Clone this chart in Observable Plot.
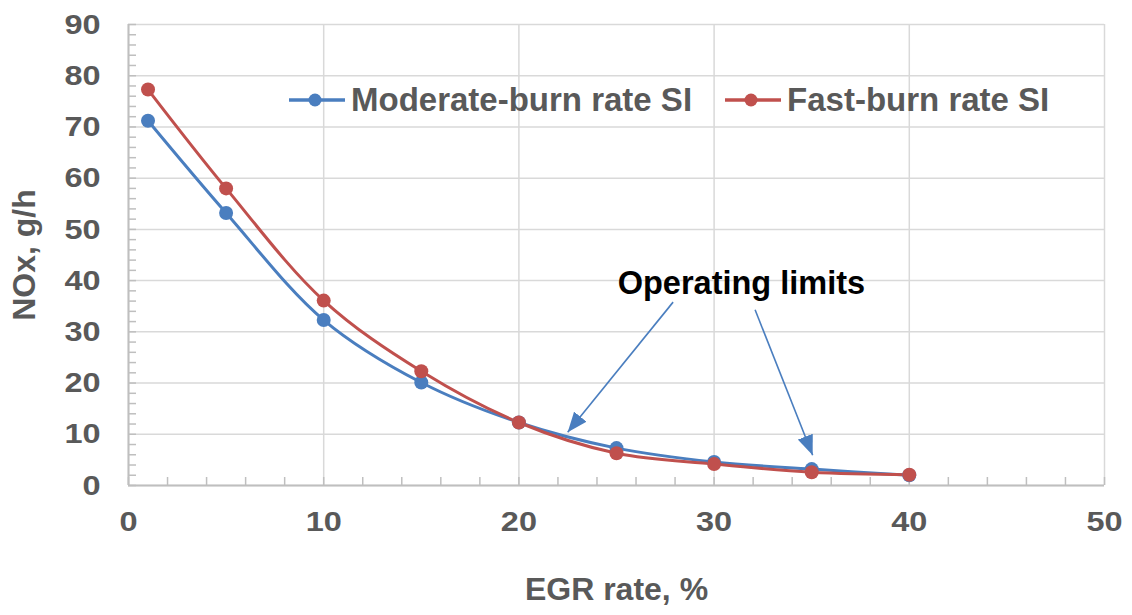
<!DOCTYPE html>
<html><head><meta charset="utf-8">
<script src="https://cdn.jsdelivr.net/npm/d3@7"></script>
<script src="https://cdn.jsdelivr.net/npm/@observablehq/plot@0.6"></script>
<style>
body{margin:0;background:#fff;font-family:"Liberation Sans",Arial,sans-serif;}
#wrap{position:relative;width:1132px;height:615px;}
#legend{position:absolute;top:81px;left:289px;display:flex;align-items:center;font-weight:bold;font-size:33px;color:#595959;white-space:nowrap;}
#legend .item{display:flex;align-items:center;margin-right:33px;}
#legend svg{margin-right:6px;}
</style></head><body><div id="wrap"><div id="chart"></div><div id="legend"></div></div>
<script>
const egr = [1, 5, 10, 15, 20, 25, 30, 35, 40];
const moderateNOx = [71.2, 53.2, 32.3, 20.1, 12.3, 7.3, 4.6, 3.2, 2.0];
const fastNOx = [77.3, 58.0, 36.1, 22.3, 12.3, 6.3, 4.2, 2.6, 2.1];
const seriesNames = ["Moderate-burn rate SI", "Fast-burn rate SI"];
const seriesColors = ["#4a7ebf", "#c0504d"];
const xTicks = [0, 10, 20, 30, 40, 50];
const yTicks = [0, 10, 20, 30, 40, 50, 60, 70, 80, 90];
const xMinor = d3.range(0, 51, 2);
const yMinor = d3.range(0, 91, 2);
const annotationLabel = [{x: 31.4, y: 39.4, text: "Operating limits"}];
const annotationArrows = [
  {x1: 27.9, y1: 35.8, x2: 22.5, y2: 10.4},
  {x1: 32.1, y1: 34.3, x2: 35.05, y2: 5.9}
];

const rows = [];
egr.forEach((x, i) => {
  rows.push({egr: x, nox: moderateNOx[i], series: seriesNames[0]});
});
egr.forEach((x, i) => {
  rows.push({egr: x, nox: fastNOx[i], series: seriesNames[1]});
});

const textGray = "#595959";
const chart = Plot.plot({
  width: 1132,
  height: 615,
  marginLeft: 128,
  marginRight: 28,
  marginTop: 24,
  marginBottom: 130,
  style: {fontFamily: '"Liberation Sans", Arial, sans-serif', background: "#fff", overflow: "visible"},
  x: {domain: [0, 50]},
  y: {domain: [0, 90]},
  color: {domain: seriesNames, range: seriesColors},
  marks: [
    Plot.gridY(yTicks, {stroke: "#d9d9d9", strokeOpacity: 1, strokeWidth: 1.5}),
    Plot.gridX(xTicks, {stroke: "#d9d9d9", strokeOpacity: 1, strokeWidth: 1.5}),
    Plot.axisX(xMinor, {tickSize: -8, tickFormat: () => "", stroke: "#bfbfbf", strokeWidth: 1.5, label: null}),
    Plot.axisY(yMinor, {tickSize: -8, tickFormat: () => "", stroke: "#bfbfbf", strokeWidth: 1.5, label: null}),
    Plot.axisX(xTicks, {tickSize: 0, tickPadding: 25, fontSize: 28.5, fontWeight: "bold", fill: textGray,
      className: "ticklab", label: "EGR rate, %", labelAnchor: "center", labelOffset: 114, labelArrow: "none"}),
    Plot.axisY(yTicks, {tickSize: 0, tickPadding: 28, fontSize: 28.5, fontWeight: "bold", fill: textGray,
      className: "ticklab", label: "NOx, g/h", labelAnchor: "center", labelOffset: 116, labelArrow: "none"}),
    Plot.ruleX([0], {stroke: "#bfbfbf", strokeWidth: 2}),
    Plot.ruleY([0], {stroke: "#bfbfbf", strokeWidth: 2}),
    Plot.line(rows, {x: "egr", y: "nox", stroke: "series", z: "series", strokeWidth: 3, curve: "catmull-rom"}),
    Plot.dot(rows, {x: "egr", y: "nox", fill: "series", r: 7}),
    Plot.link(annotationArrows, {x1: "x1", y1: "y1", x2: "x2", y2: "y2", stroke: "#4a7ebf", strokeWidth: 1.6, className: "oparrow"}),
    Plot.text(annotationLabel, {x: "x", y: "y", text: "text", fontSize: 32.5, fontWeight: "bold", fill: "#000"})
  ]
});
document.getElementById("chart").appendChild(chart);

const svg = d3.select(chart);
// filled arrowheads for annotation links
const defs = svg.insert("defs", ":first-child");
defs.append("marker").attr("id", "fillarrow").attr("viewBox", "0 0 20 16")
  .attr("refX", 20).attr("refY", 8).attr("markerWidth", 20).attr("markerHeight", 16)
  .attr("markerUnits", "userSpaceOnUse").attr("orient", "auto")
  .append("path").attr("d", "M0,0L20,8L0,16Z").attr("fill", "#4a7ebf");
svg.selectAll(".oparrow path").attr("marker-end", "url(#fillarrow)");
// axis titles styling
svg.selectAll("[aria-label='x-axis label'] text, [aria-label='y-axis label'] text")
  .attr("font-size", 32).attr("font-weight", "bold").attr("fill", textGray);
// widen tick label glyphs slightly to match the reference's proportions
svg.selectAll("[aria-label='x-axis tick label'] text, [aria-label='y-axis tick label'] text").each(function() {
  if (!this.textContent) return;
  const len = this.getComputedTextLength();
  if (len > 0) {
    this.setAttribute("textLength", (len * 1.14).toFixed(1));
    this.setAttribute("lengthAdjust", "spacingAndGlyphs");
  }
});

// legend
const legend = d3.select("#legend");
seriesNames.forEach((name, i) => {
  const item = legend.append("div").attr("class", "item");
  const s = item.append("svg").attr("width", 56).attr("height", 16);
  s.append("line").attr("x1", 0).attr("x2", 56).attr("y1", 8).attr("y2", 8).attr("stroke", seriesColors[i]).attr("stroke-width", 3.5);
  s.append("circle").attr("cx", 26).attr("cy", 8).attr("r", 6.5).attr("fill", seriesColors[i]);
  item.append("span").text(name);
});
</script></body></html>
